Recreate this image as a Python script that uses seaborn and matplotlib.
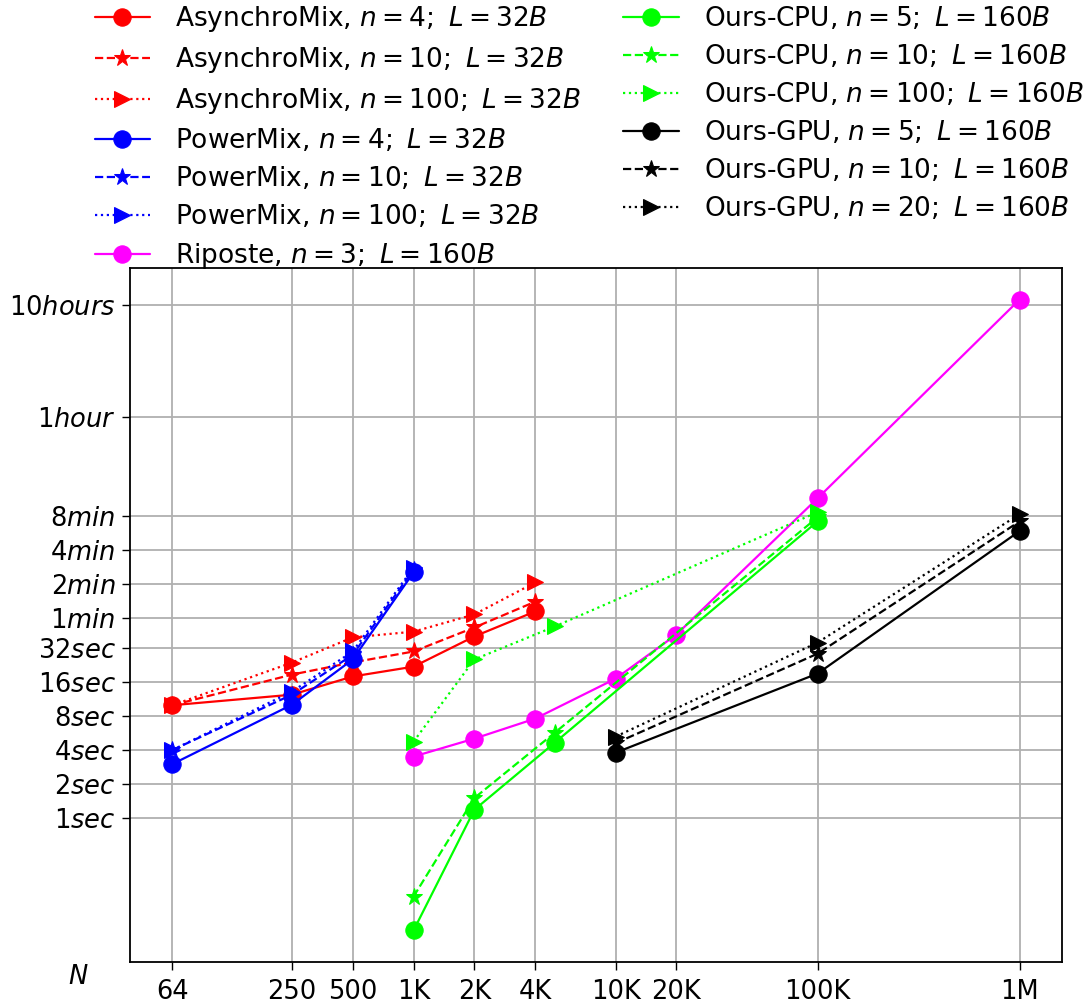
import matplotlib
matplotlib.use("Agg")
import matplotlib.pyplot as plt
import matplotlib.ticker as mticker
import seaborn as sns
import numpy as np

# ---------------- data ----------------
N_asyn = [64, 250, 500, 1000, 2000, 4000]
asyn_n4 = [10, 12.4, 18, 22, 40.8, 68]
asyn_n10 = [10, 18.7, 24, 30, 49, 83]
asyn_n100 = [10, 23.9, 40, 45, 64, 123]

N_pm = [64, 250, 500, 1000]
pm_n4 = [3.0, 10.1, 25.5, 151]
pm_n10 = [4.0, 12.4, 28, 160]
pm_n100 = [4.0, 13.2, 30, 167]

N_rip = [1000, 2000, 4000, 10000, 20000, 100000, 1000000]
rip_n3 = [3.5, 5.05, 7.6, 17.2, 42.4, 688, 40000]

N_cpu = [1000, 2000, 5000, 100000]
cpu_n5 = [0.1, 1.18, 4.65, 429]
cpu_n10 = [0.2, 1.5, 5.7, 466]
cpu_n100 = [4.75, 25.5, 50, 518]

N_gpu = [10000, 100000, 1000000]
gpu_n5 = [3.79, 19.1, 352]
gpu_n10 = [4.6, 28.7, 429]
gpu_n20 = [5.26, 36, 497]

x_ticks = [64, 250, 500, 1000, 2000, 4000, 10000, 20000, 100000, 1000000]
x_labels = ['64', '250', '500', '1K', '2K', '4K', '10K', '20K', '100K', '1M']
y_ticks = [1, 2, 4, 8, 16, 32, 60, 120, 240, 480, 3600, 36000]
y_labels = ['$1sec$', '$2sec$', '$4sec$', '$8sec$', '$16sec$', '$32sec$',
            '$1min$', '$2min$', '$4min$', '$8min$', '$1hour$', '$10hours$']

series = [
    (N_asyn, asyn_n4, 'AsynchroMix, $n=4;\\ L=32B$', 'red', '-', 'o'),
    (N_asyn, asyn_n10, 'AsynchroMix, $n=10;\\ L=32B$', 'red', '--', '*'),
    (N_asyn, asyn_n100, 'AsynchroMix, $n=100;\\ L=32B$', 'red', ':', '>'),
    (N_pm, pm_n4, 'PowerMix, $n=4;\\ L=32B$', 'blue', '-', 'o'),
    (N_pm, pm_n10, 'PowerMix, $n=10;\\ L=32B$', 'blue', '--', '*'),
    (N_pm, pm_n100, 'PowerMix, $n=100;\\ L=32B$', 'blue', ':', '>'),
    (N_rip, rip_n3, 'Riposte, $n=3;\\ L=160B$', 'magenta', '-', 'o'),
    (N_cpu, cpu_n5, 'Ours-CPU, $n=5;\\ L=160B$', 'lime', '-', 'o'),
    (N_cpu, cpu_n10, 'Ours-CPU, $n=10;\\ L=160B$', 'lime', '--', '*'),
    (N_cpu, cpu_n100, 'Ours-CPU, $n=100;\\ L=160B$', 'lime', ':', '>'),
    (N_gpu, gpu_n5, 'Ours-GPU, $n=5;\\ L=160B$', 'black', '-', 'o'),
    (N_gpu, gpu_n10, 'Ours-GPU, $n=10;\\ L=160B$', 'black', '--', '*'),
    (N_gpu, gpu_n20, 'Ours-GPU, $n=20;\\ L=160B$', 'black', ':', '>'),
]

# ---------------- plot ----------------
sns.set_style("ticks")
plt.rcParams['font.family'] = ['DejaVu Sans']
plt.rcParams['mathtext.fontset'] = 'dejavusans'
for k in ['text.color', 'axes.labelcolor', 'xtick.color', 'ytick.color']:
    plt.rcParams[k] = 'black'

fig = plt.figure(figsize=(10.85, 9.99), dpi=100)
ax = fig.add_axes([130 / 1085, 1 - 962 / 999, 932 / 1085, 694 / 999])

sizes = {'o': 12.5, '*': 12.5, '>': 11}
for xs, ys, lab, col, ls, mk in series:
    sns.lineplot(x=xs, y=ys, ax=ax, color=col, linestyle=ls, marker=mk,
                 markersize=sizes[mk], markeredgecolor=col, linewidth=1.6,
                 label=lab, estimator=None, sort=False)

ax.set_xscale('log')
ax.set_yscale('log')
ax.set_xticks(x_ticks)
ax.set_xticklabels(x_labels)
ax.set_yticks(y_ticks)
ax.set_yticklabels(y_labels)
ax.xaxis.set_minor_locator(mticker.NullLocator())
ax.yaxis.set_minor_locator(mticker.NullLocator())
ax.tick_params(axis='both', labelsize=18.5, length=5.5, width=1, color='black',
               labelcolor='black')
ax.tick_params(axis='x', pad=7)
ax.tick_params(axis='y', pad=5)
ax.grid(True, color='#b0b0b0', linewidth=1.3)
ax.set_axisbelow(True)
for sp in ax.spines.values():
    sp.set_color('black')
    sp.set_linewidth(1.3)

ax.set_xlabel('$N$', fontsize=18.5)
ax.xaxis.set_label_coords(-0.055, -0.003)

handles, labels = ax.get_legend_handles_labels()
ax.legend(handles, labels, ncol=2, frameon=False, fontsize=19,
          loc='upper center', bbox_to_anchor=(589 / 1085, 1.0),
          bbox_transform=fig.transFigure, handlelength=2.1,
          handletextpad=0.95, columnspacing=1.6, labelspacing=0.42,
          borderaxespad=0.0, borderpad=0.15)

fig.savefig('out.png', dpi=100)
